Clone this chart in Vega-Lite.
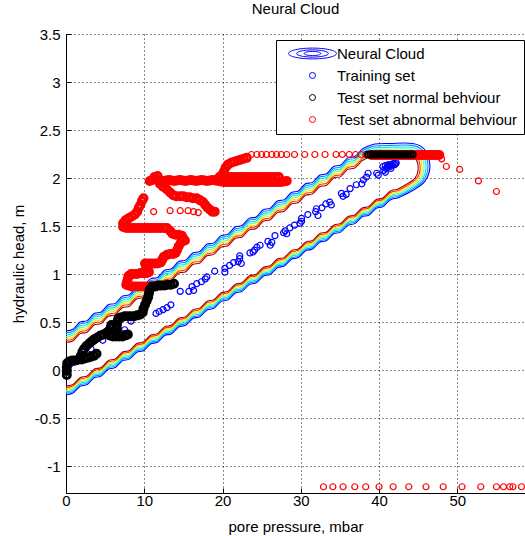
{
"$schema":"https://vega.github.io/schema/vega-lite/v6.json",
"width":459,"height":459,
"autosize":{"type":"none"},
"padding":{"left":66,"top":34,"right":0,"bottom":43},
"background":"white",
"config":{"font":"Liberation Sans","view":{"stroke":null}},
"title":{"text":"Neural Cloud","fontSize":15,"fontWeight":"normal","font":"Liberation Sans","color":"black","offset":10,"anchor":"middle"},
"encoding":{
  "x":{"field":"x","type":"quantitative","scale":{"domain":[0,58.65],"nice":false,"zero":false},
   "axis":{"title":"pore pressure, mbar","values":[0,10,20,30,40,50],"labelExpr":"'' + datum.value","grid":true,"gridDash":[1,3],"gridColor":"black","gridOpacity":0.9,"ticks":true,"tickSize":-5,"tickColor":"black","domainColor":"black","labelFontSize":15,"labelColor":"black","labelFlush":false,"labelOverlap":false,"labelPadding":5,"titleFontSize":15,"titleFontWeight":"normal","titleColor":"black","titlePadding":11}},
  "y":{"field":"y","type":"quantitative","scale":{"domain":[-1.28,3.5],"nice":false,"zero":false},
   "axis":{"title":"hydraulic head, m","values":[-1,-0.5,0,0.5,1,1.5,2,2.5,3,3.5],"labelExpr":"'' + datum.value","grid":true,"gridDash":[1,3],"gridColor":"black","gridOpacity":0.9,"ticks":true,"tickSize":-5,"tickColor":"black","domainColor":"black","labelFontSize":15,"labelColor":"black","labelFlush":false,"labelOverlap":false,"labelPadding":11,"titleFontSize":15,"titleFontWeight":"normal","titleColor":"black","titlePadding":8}}
},
"datasets":{
"band":[
{"s":"u","x":0,"a":0.41,"b":0.39,"c":0.37,"d":0.35,"e":0.33,"f":0.31,"g":0.29},
{"s":"u","x":0.9,"a":0.425,"b":0.405,"c":0.385,"d":0.365,"e":0.345,"f":0.325,"g":0.305},
{"s":"u","x":1.8,"a":0.5,"b":0.48,"c":0.46,"d":0.44,"e":0.42,"f":0.4,"g":0.38},
{"s":"u","x":2.7,"a":0.515,"b":0.495,"c":0.475,"d":0.455,"e":0.435,"f":0.415,"g":0.395},
{"s":"u","x":3.6,"a":0.59,"b":0.57,"c":0.55,"d":0.53,"e":0.51,"f":0.49,"g":0.47},
{"s":"u","x":4.5,"a":0.605,"b":0.585,"c":0.565,"d":0.545,"e":0.525,"f":0.505,"g":0.485},
{"s":"u","x":5.4,"a":0.68,"b":0.66,"c":0.64,"d":0.62,"e":0.6,"f":0.58,"g":0.56},
{"s":"u","x":6.3,"a":0.695,"b":0.675,"c":0.655,"d":0.635,"e":0.615,"f":0.595,"g":0.575},
{"s":"u","x":7.2,"a":0.77,"b":0.75,"c":0.73,"d":0.71,"e":0.69,"f":0.67,"g":0.65},
{"s":"u","x":8.1,"a":0.785,"b":0.765,"c":0.745,"d":0.725,"e":0.705,"f":0.685,"g":0.665},
{"s":"u","x":9.0,"a":0.86,"b":0.84,"c":0.82,"d":0.8,"e":0.78,"f":0.76,"g":0.74},
{"s":"u","x":9.9,"a":0.875,"b":0.855,"c":0.835,"d":0.815,"e":0.795,"f":0.775,"g":0.755},
{"s":"u","x":10.8,"a":0.95,"b":0.93,"c":0.91,"d":0.89,"e":0.87,"f":0.85,"g":0.83},
{"s":"u","x":11.7,"a":0.965,"b":0.945,"c":0.925,"d":0.905,"e":0.885,"f":0.865,"g":0.845},
{"s":"u","x":12.6,"a":1.04,"b":1.02,"c":1.0,"d":0.98,"e":0.96,"f":0.94,"g":0.92},
{"s":"u","x":13.5,"a":1.055,"b":1.035,"c":1.015,"d":0.995,"e":0.975,"f":0.955,"g":0.935},
{"s":"u","x":14.4,"a":1.13,"b":1.11,"c":1.09,"d":1.07,"e":1.05,"f":1.03,"g":1.01},
{"s":"u","x":15.3,"a":1.145,"b":1.125,"c":1.105,"d":1.085,"e":1.065,"f":1.045,"g":1.025},
{"s":"u","x":16.2,"a":1.22,"b":1.2,"c":1.18,"d":1.16,"e":1.14,"f":1.12,"g":1.1},
{"s":"u","x":17.1,"a":1.235,"b":1.215,"c":1.195,"d":1.175,"e":1.155,"f":1.135,"g":1.115},
{"s":"u","x":18.0,"a":1.31,"b":1.29,"c":1.27,"d":1.25,"e":1.23,"f":1.21,"g":1.19},
{"s":"u","x":18.9,"a":1.325,"b":1.305,"c":1.285,"d":1.265,"e":1.245,"f":1.225,"g":1.205},
{"s":"u","x":19.8,"a":1.4,"b":1.38,"c":1.36,"d":1.34,"e":1.32,"f":1.3,"g":1.28},
{"s":"u","x":20.7,"a":1.415,"b":1.395,"c":1.375,"d":1.355,"e":1.335,"f":1.315,"g":1.295},
{"s":"u","x":21.6,"a":1.49,"b":1.47,"c":1.45,"d":1.43,"e":1.41,"f":1.39,"g":1.37},
{"s":"u","x":22.5,"a":1.505,"b":1.485,"c":1.465,"d":1.445,"e":1.425,"f":1.405,"g":1.385},
{"s":"u","x":23.4,"a":1.58,"b":1.56,"c":1.54,"d":1.52,"e":1.5,"f":1.48,"g":1.46},
{"s":"u","x":24.3,"a":1.595,"b":1.575,"c":1.555,"d":1.535,"e":1.515,"f":1.495,"g":1.475},
{"s":"u","x":25.2,"a":1.67,"b":1.65,"c":1.63,"d":1.61,"e":1.59,"f":1.57,"g":1.55},
{"s":"u","x":26.1,"a":1.685,"b":1.665,"c":1.645,"d":1.625,"e":1.605,"f":1.585,"g":1.565},
{"s":"u","x":27.0,"a":1.76,"b":1.74,"c":1.72,"d":1.7,"e":1.68,"f":1.66,"g":1.64},
{"s":"u","x":27.9,"a":1.775,"b":1.755,"c":1.735,"d":1.715,"e":1.695,"f":1.675,"g":1.655},
{"s":"u","x":28.8,"a":1.85,"b":1.83,"c":1.81,"d":1.79,"e":1.77,"f":1.75,"g":1.73},
{"s":"u","x":29.7,"a":1.865,"b":1.845,"c":1.825,"d":1.805,"e":1.785,"f":1.765,"g":1.745},
{"s":"u","x":30.6,"a":1.94,"b":1.92,"c":1.9,"d":1.88,"e":1.86,"f":1.84,"g":1.82},
{"s":"u","x":31.5,"a":1.955,"b":1.935,"c":1.915,"d":1.895,"e":1.875,"f":1.855,"g":1.835},
{"s":"u","x":32.4,"a":2.03,"b":2.01,"c":1.99,"d":1.97,"e":1.95,"f":1.93,"g":1.91},
{"s":"u","x":33.3,"a":2.045,"b":2.025,"c":2.005,"d":1.985,"e":1.965,"f":1.945,"g":1.925},
{"s":"u","x":34.2,"a":2.12,"b":2.1,"c":2.08,"d":2.06,"e":2.04,"f":2.02,"g":2.0},
{"s":"u","x":35.1,"a":2.135,"b":2.115,"c":2.095,"d":2.075,"e":2.055,"f":2.035,"g":2.015},
{"s":"u","x":36.0,"a":2.21,"b":2.19,"c":2.17,"d":2.15,"e":2.13,"f":2.11,"g":2.09},
{"s":"u","x":36.9,"a":2.225,"b":2.205,"c":2.185,"d":2.165,"e":2.145,"f":2.125,"g":2.105},
{"s":"u","x":37.8,"a":2.3,"b":2.28,"c":2.26,"d":2.24,"e":2.22,"f":2.2,"g":2.18},
{"s":"l","x":0,"a":-0.257,"b":-0.242,"c":-0.227,"d":-0.212,"e":-0.197,"f":-0.182,"g":-0.167},
{"s":"l","x":0.9,"a":-0.239,"b":-0.224,"c":-0.209,"d":-0.194,"e":-0.179,"f":-0.164,"g":-0.149},
{"s":"l","x":1.8,"a":-0.169,"b":-0.154,"c":-0.139,"d":-0.124,"e":-0.109,"f":-0.094,"g":-0.079},
{"s":"l","x":2.7,"a":-0.151,"b":-0.136,"c":-0.121,"d":-0.106,"e":-0.091,"f":-0.076,"g":-0.061},
{"s":"l","x":3.6,"a":-0.081,"b":-0.066,"c":-0.051,"d":-0.036,"e":-0.021,"f":-0.006,"g":0.009},
{"s":"l","x":4.5,"a":-0.063,"b":-0.048,"c":-0.033,"d":-0.018,"e":-0.003,"f":0.012,"g":0.027},
{"s":"l","x":5.4,"a":0.008,"b":0.023,"c":0.038,"d":0.053,"e":0.068,"f":0.083,"g":0.098},
{"s":"l","x":6.3,"a":0.026,"b":0.041,"c":0.056,"d":0.071,"e":0.086,"f":0.101,"g":0.116},
{"s":"l","x":7.2,"a":0.096,"b":0.111,"c":0.126,"d":0.141,"e":0.156,"f":0.171,"g":0.186},
{"s":"l","x":8.1,"a":0.114,"b":0.129,"c":0.144,"d":0.159,"e":0.174,"f":0.189,"g":0.204},
{"s":"l","x":9.0,"a":0.184,"b":0.199,"c":0.214,"d":0.229,"e":0.244,"f":0.259,"g":0.274},
{"s":"l","x":9.9,"a":0.202,"b":0.217,"c":0.232,"d":0.247,"e":0.262,"f":0.277,"g":0.292},
{"s":"l","x":10.8,"a":0.272,"b":0.287,"c":0.302,"d":0.317,"e":0.332,"f":0.347,"g":0.362},
{"s":"l","x":11.7,"a":0.29,"b":0.305,"c":0.32,"d":0.335,"e":0.35,"f":0.365,"g":0.38},
{"s":"l","x":12.6,"a":0.36,"b":0.375,"c":0.39,"d":0.405,"e":0.42,"f":0.435,"g":0.45},
{"s":"l","x":13.5,"a":0.379,"b":0.394,"c":0.409,"d":0.424,"e":0.439,"f":0.454,"g":0.469},
{"s":"l","x":14.4,"a":0.449,"b":0.464,"c":0.479,"d":0.494,"e":0.509,"f":0.524,"g":0.539},
{"s":"l","x":15.3,"a":0.467,"b":0.482,"c":0.497,"d":0.512,"e":0.527,"f":0.542,"g":0.557},
{"s":"l","x":16.2,"a":0.537,"b":0.552,"c":0.567,"d":0.582,"e":0.597,"f":0.612,"g":0.627},
{"s":"l","x":17.1,"a":0.555,"b":0.57,"c":0.585,"d":0.6,"e":0.615,"f":0.63,"g":0.645},
{"s":"l","x":18.0,"a":0.625,"b":0.64,"c":0.655,"d":0.67,"e":0.685,"f":0.7,"g":0.715},
{"s":"l","x":18.9,"a":0.643,"b":0.658,"c":0.673,"d":0.688,"e":0.703,"f":0.718,"g":0.733},
{"s":"l","x":19.8,"a":0.713,"b":0.728,"c":0.743,"d":0.758,"e":0.773,"f":0.788,"g":0.803},
{"s":"l","x":20.7,"a":0.731,"b":0.746,"c":0.761,"d":0.776,"e":0.791,"f":0.806,"g":0.821},
{"s":"l","x":21.6,"a":0.801,"b":0.816,"c":0.831,"d":0.846,"e":0.861,"f":0.876,"g":0.891},
{"s":"l","x":22.5,"a":0.82,"b":0.835,"c":0.85,"d":0.865,"e":0.88,"f":0.895,"g":0.91},
{"s":"l","x":23.4,"a":0.89,"b":0.905,"c":0.92,"d":0.935,"e":0.95,"f":0.965,"g":0.98},
{"s":"l","x":24.3,"a":0.908,"b":0.923,"c":0.938,"d":0.953,"e":0.968,"f":0.983,"g":0.998},
{"s":"l","x":25.2,"a":0.978,"b":0.993,"c":1.008,"d":1.023,"e":1.038,"f":1.053,"g":1.068},
{"s":"l","x":26.1,"a":0.996,"b":1.011,"c":1.026,"d":1.041,"e":1.056,"f":1.071,"g":1.086},
{"s":"l","x":27.0,"a":1.066,"b":1.081,"c":1.096,"d":1.111,"e":1.126,"f":1.141,"g":1.156},
{"s":"l","x":27.9,"a":1.084,"b":1.099,"c":1.114,"d":1.129,"e":1.144,"f":1.159,"g":1.174},
{"s":"l","x":28.8,"a":1.154,"b":1.169,"c":1.184,"d":1.199,"e":1.214,"f":1.229,"g":1.244},
{"s":"l","x":29.7,"a":1.172,"b":1.187,"c":1.202,"d":1.217,"e":1.232,"f":1.247,"g":1.262},
{"s":"l","x":30.6,"a":1.242,"b":1.257,"c":1.272,"d":1.287,"e":1.302,"f":1.317,"g":1.332},
{"s":"l","x":31.5,"a":1.261,"b":1.276,"c":1.291,"d":1.306,"e":1.321,"f":1.336,"g":1.351},
{"s":"l","x":32.4,"a":1.331,"b":1.346,"c":1.361,"d":1.376,"e":1.391,"f":1.406,"g":1.421},
{"s":"l","x":33.3,"a":1.349,"b":1.364,"c":1.379,"d":1.394,"e":1.409,"f":1.424,"g":1.439},
{"s":"l","x":34.2,"a":1.419,"b":1.434,"c":1.449,"d":1.464,"e":1.479,"f":1.494,"g":1.509},
{"s":"l","x":35.1,"a":1.437,"b":1.452,"c":1.467,"d":1.482,"e":1.497,"f":1.512,"g":1.527},
{"s":"l","x":36.0,"a":1.507,"b":1.522,"c":1.537,"d":1.552,"e":1.567,"f":1.582,"g":1.597},
{"s":"l","x":36.9,"a":1.525,"b":1.54,"c":1.555,"d":1.57,"e":1.585,"f":1.6,"g":1.615},
{"s":"l","x":37.8,"a":1.595,"b":1.61,"c":1.625,"d":1.64,"e":1.655,"f":1.67,"g":1.685},
{"s":"l","x":38.7,"a":1.613,"b":1.628,"c":1.643,"d":1.658,"e":1.673,"f":1.688,"g":1.703},
{"s":"l","x":39.6,"a":1.683,"b":1.698,"c":1.713,"d":1.728,"e":1.743,"f":1.758,"g":1.773},
{"s":"l","x":40.5,"a":1.702,"b":1.717,"c":1.732,"d":1.747,"e":1.762,"f":1.777,"g":1.792},
{"s":"l","x":41.4,"a":1.772,"b":1.787,"c":1.802,"d":1.817,"e":1.832,"f":1.847,"g":1.862},
{"s":"l","x":42.3,"a":1.79,"b":1.805,"c":1.82,"d":1.835,"e":1.85,"f":1.865,"g":1.88}
],
"cap":[
{"lev":"a","i":1,"x":37.8,"y":2.3},{"lev":"a","i":2,"x":39.2,"y":2.35},{"lev":"a","i":3,"x":41.5,"y":2.36},{"lev":"a","i":4,"x":44.3,"y":2.36},{"lev":"a","i":5,"x":45.8,"y":2.3},{"lev":"a","i":6,"x":46.5,"y":2.13},{"lev":"a","i":7,"x":45.9,"y":1.97},{"lev":"a","i":8,"x":44.3,"y":1.87},{"lev":"a","i":9,"x":42.3,"y":1.79},
{"lev":"b","i":1,"x":37.8,"y":2.28},{"lev":"b","i":2,"x":39.2,"y":2.33},{"lev":"b","i":3,"x":41.5,"y":2.34},{"lev":"b","i":4,"x":44.22,"y":2.34},{"lev":"b","i":5,"x":45.62,"y":2.283},{"lev":"b","i":6,"x":46.25,"y":2.123},{"lev":"b","i":7,"x":45.68,"y":1.975},{"lev":"b","i":8,"x":44.15,"y":1.88},{"lev":"b","i":9,"x":42.3,"y":1.805},
{"lev":"c","i":1,"x":37.8,"y":2.26},{"lev":"c","i":2,"x":39.2,"y":2.31},{"lev":"c","i":3,"x":41.5,"y":2.32},{"lev":"c","i":4,"x":44.13,"y":2.32},{"lev":"c","i":5,"x":45.43,"y":2.267},{"lev":"c","i":6,"x":46.0,"y":2.117},{"lev":"c","i":7,"x":45.47,"y":1.98},{"lev":"c","i":8,"x":44.0,"y":1.89},{"lev":"c","i":9,"x":42.3,"y":1.82},
{"lev":"d","i":1,"x":37.8,"y":2.24},{"lev":"d","i":2,"x":39.2,"y":2.29},{"lev":"d","i":3,"x":41.5,"y":2.3},{"lev":"d","i":4,"x":44.05,"y":2.3},{"lev":"d","i":5,"x":45.25,"y":2.25},{"lev":"d","i":6,"x":45.75,"y":2.11},{"lev":"d","i":7,"x":45.25,"y":1.985},{"lev":"d","i":8,"x":43.85,"y":1.9},{"lev":"d","i":9,"x":42.3,"y":1.835},
{"lev":"e","i":1,"x":37.8,"y":2.22},{"lev":"e","i":2,"x":39.2,"y":2.27},{"lev":"e","i":3,"x":41.5,"y":2.28},{"lev":"e","i":4,"x":43.97,"y":2.28},{"lev":"e","i":5,"x":45.07,"y":2.233},{"lev":"e","i":6,"x":45.5,"y":2.103},{"lev":"e","i":7,"x":45.03,"y":1.99},{"lev":"e","i":8,"x":43.7,"y":1.91},{"lev":"e","i":9,"x":42.3,"y":1.85},
{"lev":"f","i":1,"x":37.8,"y":2.2},{"lev":"f","i":2,"x":39.2,"y":2.25},{"lev":"f","i":3,"x":41.5,"y":2.26},{"lev":"f","i":4,"x":43.88,"y":2.26},{"lev":"f","i":5,"x":44.88,"y":2.217},{"lev":"f","i":6,"x":45.25,"y":2.097},{"lev":"f","i":7,"x":44.82,"y":1.995},{"lev":"f","i":8,"x":43.55,"y":1.92},{"lev":"f","i":9,"x":42.3,"y":1.865},
{"lev":"g","i":1,"x":37.8,"y":2.18},{"lev":"g","i":2,"x":39.2,"y":2.23},{"lev":"g","i":3,"x":41.5,"y":2.24},{"lev":"g","i":4,"x":43.8,"y":2.24},{"lev":"g","i":5,"x":44.7,"y":2.2},{"lev":"g","i":6,"x":45.0,"y":2.09},{"lev":"g","i":7,"x":44.6,"y":2.0},{"lev":"g","i":8,"x":43.4,"y":1.93},{"lev":"g","i":9,"x":42.3,"y":1.88}
],
"train":[
{"x":0.1,"y":0.05},{"x":0.5,"y":0.06},{"x":0.9,"y":0.08},{"x":1.4,"y":0.09},{"x":3.2,"y":0.22},{"x":4.7,"y":0.31},{"x":7.5,"y":0.42},{"x":7.5,"y":0.38},{"x":8.3,"y":0.51},
{"x":11.5,"y":0.59},{"x":11.9,"y":0.61},{"x":12.4,"y":0.63},{"x":12.9,"y":0.65},{"x":13.4,"y":0.68},{"x":14.6,"y":0.82},{"x":15.7,"y":0.82},{"x":16.1,"y":0.87},{"x":16.3,"y":0.83},
{"x":16.7,"y":0.9},{"x":17.3,"y":0.92},{"x":17.8,"y":0.95},{"x":18.0,"y":0.97},{"x":19.0,"y":1.03},{"x":20.3,"y":1.06},{"x":20.3,"y":1.02},{"x":20.9,"y":1.09},{"x":21.4,"y":1.12},
{"x":22.0,"y":1.13},{"x":22.2,"y":1.16},{"x":22.4,"y":1.11},{"x":22.2,"y":1.19},{"x":23.5,"y":1.22},{"x":23.9,"y":1.23},{"x":24.1,"y":1.25},{"x":24.4,"y":1.28},{"x":24.8,"y":1.3},
{"x":25.8,"y":1.34},{"x":26.1,"y":1.3},{"x":26.3,"y":1.33},{"x":26.7,"y":1.4},{"x":27.8,"y":1.43},{"x":28.0,"y":1.45},{"x":28.2,"y":1.42},{"x":28.6,"y":1.48},{"x":29.2,"y":1.51},
{"x":29.9,"y":1.53},{"x":30.1,"y":1.55},{"x":30.1,"y":1.58},{"x":30.9,"y":1.62},{"x":31.9,"y":1.65},{"x":32.0,"y":1.68},{"x":32.2,"y":1.61},{"x":32.7,"y":1.69},{"x":33.2,"y":1.73},
{"x":33.7,"y":1.75},{"x":33.9,"y":1.72},{"x":35.2,"y":1.84},{"x":35.4,"y":1.81},{"x":35.8,"y":1.83},{"x":36.3,"y":1.89},{"x":37.1,"y":1.93},{"x":37.8,"y":1.94},{"x":38.0,"y":1.98},
{"x":38.4,"y":2.01},{"x":38.6,"y":2.05},{"x":39.7,"y":2.05},{"x":39.9,"y":2.03},{"x":40.5,"y":2.12},{"x":40.6,"y":2.08},{"x":40.8,"y":2.13},{"x":40.9,"y":2.1},{"x":41.0,"y":2.11},
{"x":41.1,"y":2.13},{"x":41.2,"y":2.14},{"x":41.3,"y":2.12},{"x":41.4,"y":2.12},{"x":41.5,"y":2.1},{"x":41.6,"y":2.14},{"x":41.7,"y":2.13},{"x":41.8,"y":2.15},{"x":42.0,"y":2.14},
{"x":42.1,"y":2.15},{"x":42.2,"y":2.16},{"x":40.8,"y":2.06}
],
"abnDense":[
{"x":12.0,"y":0.88},{"x":11.6,"y":0.88},{"x":11.2,"y":0.87},{"x":10.8,"y":0.87},{"x":10.4,"y":0.87},{"x":10.0,"y":0.87},{"x":9.6,"y":0.87},{"x":9.2,"y":0.87},{"x":8.8,"y":0.87},{"x":8.4,"y":0.87},{"x":8.0,"y":0.88},{"x":7.7,"y":0.89},
{"x":7.8,"y":0.92},{"x":7.9,"y":0.95},{"x":8.0,"y":0.98},{"x":8.3,"y":1.0},{"x":8.7,"y":1.0},{"x":9.1,"y":1.0},{"x":9.5,"y":1.01},{"x":9.9,"y":1.01},{"x":10.3,"y":1.01},{"x":10.6,"y":1.02},
{"x":10.5,"y":1.06},{"x":10.2,"y":1.09},{"x":10.1,"y":1.11},{"x":10.5,"y":1.11},{"x":10.9,"y":1.11},{"x":11.3,"y":1.11},{"x":11.7,"y":1.11},{"x":12.1,"y":1.12},{"x":12.3,"y":1.15},{"x":12.5,"y":1.18},
{"x":12.9,"y":1.2},{"x":13.3,"y":1.21},{"x":13.7,"y":1.21},{"x":14.0,"y":1.22},{"x":14.2,"y":1.25},{"x":14.4,"y":1.29},{"x":14.7,"y":1.33},{"x":15.0,"y":1.37},{"x":15.2,"y":1.35},{"x":14.8,"y":1.4},
{"x":14.4,"y":1.41},{"x":14.0,"y":1.41},{"x":13.6,"y":1.42},{"x":13.3,"y":1.45},{"x":12.9,"y":1.48},{"x":12.5,"y":1.48},{"x":12.1,"y":1.48},{"x":11.7,"y":1.48},{"x":11.3,"y":1.48},{"x":10.9,"y":1.48},
{"x":10.5,"y":1.48},{"x":10.1,"y":1.48},{"x":9.7,"y":1.48},{"x":9.3,"y":1.48},{"x":8.9,"y":1.48},{"x":8.5,"y":1.48},{"x":8.1,"y":1.48},{"x":7.7,"y":1.48},{"x":7.3,"y":1.49},{"x":7.3,"y":1.53},
{"x":7.6,"y":1.56},{"x":8.0,"y":1.58},{"x":8.4,"y":1.6},{"x":8.8,"y":1.62},{"x":9.1,"y":1.65},{"x":9.3,"y":1.69},{"x":9.5,"y":1.72},{"x":9.7,"y":1.76},{"x":9.9,"y":1.79},
{"x":10.7,"y":1.97},{"x":11.05,"y":1.98},{"x":11.4,"y":1.99},{"x":11.75,"y":1.98},{"x":12.1,"y":1.975},{"x":12.45,"y":1.97},{"x":12.8,"y":1.975},{"x":13.15,"y":1.98},{"x":13.5,"y":1.975},
{"x":13.85,"y":1.97},{"x":14.2,"y":1.975},{"x":14.55,"y":1.98},{"x":14.9,"y":1.975},{"x":15.25,"y":1.97},{"x":15.6,"y":1.975},{"x":15.95,"y":1.98},{"x":16.3,"y":1.975},{"x":16.65,"y":1.97},
{"x":17.0,"y":1.975},{"x":17.35,"y":1.98},{"x":17.7,"y":1.975},{"x":18.05,"y":1.97},{"x":18.4,"y":1.975},{"x":18.75,"y":1.98},{"x":19.1,"y":1.975},{"x":19.45,"y":1.97},{"x":19.8,"y":1.965},
{"x":20.15,"y":1.96},{"x":20.5,"y":1.96},{"x":20.85,"y":1.96},{"x":21.2,"y":1.96},{"x":21.55,"y":1.96},{"x":21.9,"y":1.96},{"x":22.25,"y":1.96},{"x":22.6,"y":1.96},{"x":22.95,"y":1.96},
{"x":23.3,"y":1.96},{"x":23.65,"y":1.96},{"x":24.0,"y":1.96},{"x":24.35,"y":1.96},{"x":24.7,"y":1.96},{"x":25.05,"y":1.96},{"x":25.4,"y":1.96},{"x":25.75,"y":1.96},{"x":26.1,"y":1.96},
{"x":26.45,"y":1.96},{"x":26.8,"y":1.96},{"x":27.15,"y":1.96},{"x":27.5,"y":1.96},{"x":27.85,"y":1.965},{"x":28.2,"y":1.97},
{"x":11.3,"y":2.01},{"x":11.7,"y":2.02},{"x":19.6,"y":2.01},{"x":20.0,"y":2.01},{"x":20.4,"y":2.01},{"x":20.8,"y":2.01},{"x":21.2,"y":2.01},{"x":21.6,"y":2.01},{"x":22.0,"y":2.01},{"x":22.4,"y":2.01},
{"x":22.8,"y":2.01},{"x":23.2,"y":2.01},{"x":23.6,"y":2.01},{"x":24.0,"y":2.01},{"x":24.4,"y":2.01},{"x":24.8,"y":2.01},{"x":25.2,"y":2.01},{"x":25.6,"y":2.01},{"x":26.0,"y":2.01},{"x":26.4,"y":2.01},{"x":26.8,"y":2.01},{"x":27.2,"y":2.01},
{"x":12.0,"y":1.94},{"x":12.4,"y":1.91},{"x":12.9,"y":1.88},{"x":13.3,"y":1.85},{"x":13.7,"y":1.82},{"x":14.1,"y":1.81},{"x":14.6,"y":1.81},{"x":15.0,"y":1.81},{"x":15.4,"y":1.8},{"x":15.8,"y":1.8},
{"x":16.2,"y":1.79},{"x":16.7,"y":1.79},{"x":17.1,"y":1.77},{"x":17.5,"y":1.75},{"x":17.8,"y":1.72},{"x":18.1,"y":1.69},{"x":18.4,"y":1.67},{"x":18.7,"y":1.65},{"x":19.0,"y":1.65},
{"x":20.0,"y":2.04},{"x":20.2,"y":2.07},{"x":20.4,"y":2.11},{"x":20.7,"y":2.14},{"x":21.1,"y":2.16},{"x":21.5,"y":2.17},{"x":21.9,"y":2.18},{"x":22.3,"y":2.19},{"x":22.7,"y":2.2},{"x":23.1,"y":2.21},
{"x":39.0,"y":2.24},{"x":39.3,"y":2.24},{"x":39.6,"y":2.24},{"x":39.9,"y":2.24},{"x":40.2,"y":2.24},{"x":40.5,"y":2.24},{"x":40.8,"y":2.24},{"x":41.1,"y":2.24},{"x":41.4,"y":2.24},{"x":41.7,"y":2.24},
{"x":42.0,"y":2.24},{"x":42.3,"y":2.24},{"x":42.6,"y":2.24},{"x":42.9,"y":2.24},{"x":43.2,"y":2.24},{"x":43.5,"y":2.24},{"x":43.8,"y":2.24},{"x":44.1,"y":2.24},{"x":44.4,"y":2.24},{"x":44.7,"y":2.24},
{"x":45.0,"y":2.24},{"x":45.3,"y":2.24},{"x":45.6,"y":2.24},{"x":45.9,"y":2.24},{"x":46.2,"y":2.24},{"x":46.5,"y":2.24},{"x":46.8,"y":2.24},{"x":47.1,"y":2.24},{"x":47.4,"y":2.24},{"x":47.7,"y":2.24}
],
"abnSparse":[
{"x":11.2,"y":1.65},{"x":13.3,"y":1.66},{"x":14.6,"y":1.66},{"x":15.6,"y":1.66},{"x":16.3,"y":1.65},{"x":16.9,"y":1.64},
{"x":23.7,"y":2.245},{"x":24.4,"y":2.245},{"x":25.0,"y":2.245},{"x":25.6,"y":2.245},{"x":26.3,"y":2.245},{"x":26.9,"y":2.245},{"x":27.5,"y":2.245},{"x":28.2,"y":2.245},{"x":29.2,"y":2.245},
{"x":30.5,"y":2.245},{"x":31.8,"y":2.245},{"x":33.1,"y":2.245},{"x":34.5,"y":2.245},{"x":35.3,"y":2.245},{"x":36.2,"y":2.245},{"x":37.0,"y":2.245},{"x":37.7,"y":2.245},{"x":38.3,"y":2.245},
{"x":48.0,"y":2.2},{"x":48.6,"y":2.12},{"x":50.3,"y":2.09},{"x":52.7,"y":1.97},{"x":55.0,"y":1.86},
{"x":32.9,"y":-1.215},{"x":34.1,"y":-1.215},{"x":35.4,"y":-1.215},{"x":36.9,"y":-1.215},{"x":38.3,"y":-1.215},{"x":40.0,"y":-1.215},{"x":41.8,"y":-1.215},{"x":43.8,"y":-1.215},{"x":46.0,"y":-1.215},
{"x":48.2,"y":-1.215},{"x":50.6,"y":-1.215},{"x":53.0,"y":-1.215},{"x":55.0,"y":-1.215},{"x":55.9,"y":-1.215},{"x":56.7,"y":-1.215},{"x":57.1,"y":-1.215},{"x":58.2,"y":-1.215}
],
"norm":[
{"x":0.1,"y":-0.05},{"x":0.1,"y":-0.01},{"x":0.1,"y":0.03},{"x":0.15,"y":0.07},{"x":0.4,"y":0.09},{"x":0.8,"y":0.1},{"x":1.2,"y":0.1},{"x":1.6,"y":0.11},{"x":2.0,"y":0.11},{"x":2.4,"y":0.12},
{"x":2.8,"y":0.13},{"x":3.2,"y":0.14},{"x":3.6,"y":0.15},{"x":3.9,"y":0.17},
{"x":1.9,"y":0.15},{"x":2.1,"y":0.19},{"x":2.3,"y":0.22},{"x":2.6,"y":0.25},{"x":3.0,"y":0.28},{"x":3.3,"y":0.3},{"x":3.6,"y":0.32},{"x":4.0,"y":0.34},{"x":4.4,"y":0.36},{"x":4.8,"y":0.37},
{"x":5.2,"y":0.39},{"x":5.5,"y":0.41},{"x":5.7,"y":0.44},{"x":5.8,"y":0.47},
{"x":5.6,"y":0.36},{"x":6.0,"y":0.35},{"x":6.4,"y":0.35},{"x":6.8,"y":0.35},{"x":7.2,"y":0.35},{"x":7.6,"y":0.36},{"x":7.9,"y":0.37},
{"x":6.5,"y":0.39},{"x":6.5,"y":0.43},{"x":6.5,"y":0.47},{"x":6.6,"y":0.51},{"x":6.7,"y":0.54},
{"x":7.1,"y":0.55},{"x":7.5,"y":0.56},{"x":7.9,"y":0.56},{"x":8.3,"y":0.56},{"x":8.7,"y":0.56},{"x":9.1,"y":0.57},{"x":9.5,"y":0.58},
{"x":9.8,"y":0.6},{"x":9.9,"y":0.64},{"x":10.1,"y":0.68},{"x":10.3,"y":0.72},{"x":10.5,"y":0.76},{"x":10.6,"y":0.8},{"x":10.7,"y":0.84},
{"x":11.0,"y":0.87},{"x":11.4,"y":0.87},{"x":11.8,"y":0.88},{"x":12.2,"y":0.88},{"x":12.6,"y":0.88},{"x":13.0,"y":0.89},{"x":13.4,"y":0.89},{"x":13.8,"y":0.9}
],
"normTop":[
{"x":38.6,"y":2.245},{"x":38.9,"y":2.245},{"x":39.2,"y":2.245},{"x":39.5,"y":2.245},{"x":39.8,"y":2.245},{"x":40.1,"y":2.245},{"x":40.4,"y":2.245},{"x":40.7,"y":2.245},{"x":41.0,"y":2.245},
{"x":41.3,"y":2.245},{"x":41.6,"y":2.245},{"x":41.9,"y":2.245},{"x":42.2,"y":2.245},{"x":42.5,"y":2.245},{"x":42.8,"y":2.245},{"x":43.1,"y":2.245},{"x":43.4,"y":2.245},{"x":43.7,"y":2.245},{"x":44.0,"y":2.245},{"x":44.3,"y":2.245}
]
},
"layer":[
{"mark":{"type":"rule","color":"black","strokeWidth":1},"encoding":{"y":{"datum":3.5}}},
{"data":{"name":"band"},
 "transform":[{"fold":["a","b","c","d","e","f","g"],"as":["lev","y"]}],
 "mark":{"type":"line","strokeWidth":1.1,"interpolate":"cardinal"},
 "encoding":{
  "stroke":{"field":"lev","type":"nominal","scale":{"domain":["a","b","c","d","e","f","g"],"range":["#0000ff","#0090ff","#00e0ff","#70ff80","#ffe000","#ff3000","#a00000"]},"legend":null},
  "detail":{"field":"s"}
 }},
{"data":{"name":"cap"},
 "mark":{"type":"line","strokeWidth":1.1,"interpolate":"cardinal"},
 "encoding":{
  "stroke":{"field":"lev","type":"nominal","scale":{"domain":["a","b","c","d","e","f","g"],"range":["#0000ff","#0090ff","#00e0ff","#70ff80","#ffe000","#ff3000","#a00000"]},"legend":null},
  "order":{"field":"i","type":"quantitative"}
 }},
{"data":{"name":"train"},
 "mark":{"type":"point","filled":false,"size":36,"strokeWidth":1.2,"opacity":1},
 "encoding":{
  "color":{"datum":"Training set","type":"nominal","scale":{"domain":["Neural Cloud","Training set","Test set normal behviour","Test set abnormal behviour"],"range":["#0000ff","#0000ff","#000000","#ff0000"]},
   "legend":{"orient":"none","legendX":210,"legendY":6,"title":null,"padding":6,"rowPadding":6,"labelOffset":17,"symbolOffset":23,"symbolSize":36,"symbolStrokeWidth":1,"labelFontSize":15,"labelColor":"black","labelFont":"Liberation Sans","strokeColor":"black","fillColor":"white","labelLimit":400,"cornerRadius":0}},
  "shape":{"datum":"Training set","type":"nominal","scale":{"domain":["Neural Cloud","Training set","Test set normal behviour","Test set abnormal behviour"],"range":["M-8,0A8,1.8,0,1,0,8,0A8,1.8,0,1,0,-8,0ZM-5.3,0A5.3,1.2,0,1,0,5.3,0A5.3,1.2,0,1,0,-5.3,0ZM-2.8,0A2.8,0.7,0,1,0,2.8,0A2.8,0.7,0,1,0,-2.8,0Z","circle","circle","circle"]},
   "legend":{"orient":"none","legendX":210,"legendY":6,"title":null,"padding":6,"rowPadding":6,"labelOffset":17,"symbolOffset":23,"symbolSize":36,"symbolStrokeWidth":1,"labelFontSize":15,"labelColor":"black","labelFont":"Liberation Sans","strokeColor":"black","fillColor":"white","labelLimit":400,"cornerRadius":0}}
 }},
{"data":{"name":"abnSparse"},
 "mark":{"type":"point","filled":false,"size":36,"strokeWidth":1.2,"opacity":1},
 "encoding":{
  "color":{"datum":"Test set abnormal behviour","type":"nominal"},
  "shape":{"datum":"Test set abnormal behviour","type":"nominal"}
 }},
{"data":{"name":"abnDense"},
 "mark":{"type":"point","filled":false,"size":49,"strokeWidth":3,"opacity":1},
 "encoding":{
  "color":{"datum":"Test set abnormal behviour","type":"nominal"},
  "shape":{"datum":"Test set abnormal behviour","type":"nominal"}
 }},
{"data":{"name":"norm"},
 "mark":{"type":"point","filled":false,"size":49,"strokeWidth":3,"opacity":1},
 "encoding":{
  "color":{"datum":"Test set normal behviour","type":"nominal"},
  "shape":{"datum":"Test set normal behviour","type":"nominal"}
 }},
{"data":{"name":"normTop"},
 "mark":{"type":"point","filled":false,"size":40,"strokeWidth":1.8,"opacity":1},
 "encoding":{
  "color":{"datum":"Test set normal behviour","type":"nominal"},
  "shape":{"datum":"Test set normal behviour","type":"nominal"}
 }}
]
}
